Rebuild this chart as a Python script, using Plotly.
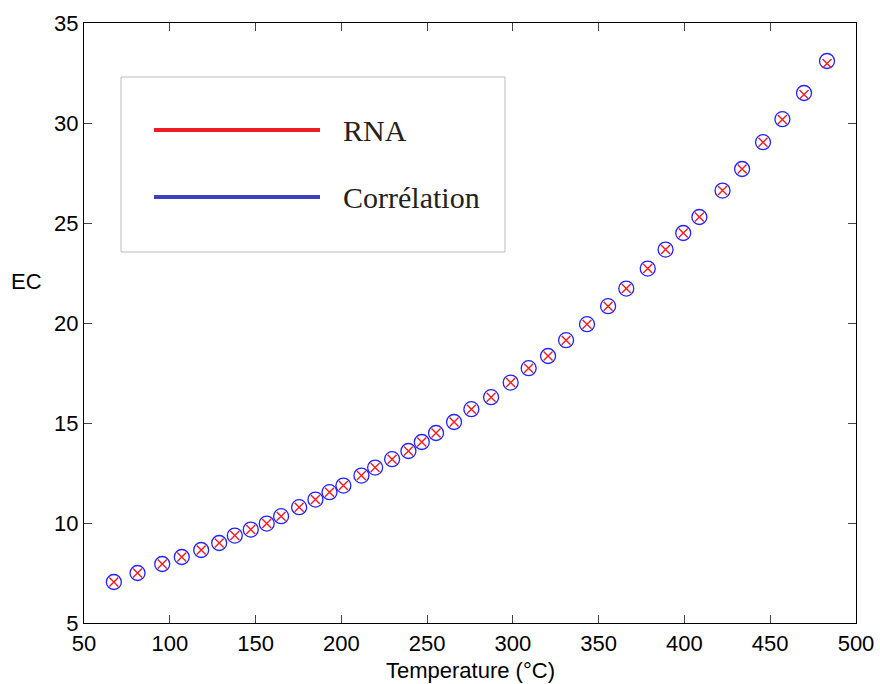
import plotly.graph_objects as go

# temperature (°C) and EC values
temperature = [
    67.4, 81.2, 95.6, 107.0, 118.3, 128.8, 137.9, 147.2, 156.5, 164.9,
    175.4, 184.9, 193.1, 201.2, 211.7, 219.7, 229.6, 239.1, 246.9, 255.2,
    265.7, 275.8, 287.3, 298.7, 309.2, 320.5, 331.0, 343.2, 355.5, 366.1,
    378.6, 389.0, 399.3, 408.7, 422.2, 433.6, 445.8, 457.1, 469.7, 483.1,
]
ec_correlation = [
    7.05, 7.50, 7.95, 8.30, 8.65, 9.00, 9.37, 9.67, 9.97, 10.34,
    10.79, 11.17, 11.54, 11.87, 12.37, 12.77, 13.19, 13.60, 14.05, 14.50,
    15.05, 15.69, 16.29, 17.02, 17.74, 18.35, 19.14, 19.94, 20.84, 21.72,
    22.72, 23.67, 24.50, 25.30, 26.62, 27.70, 29.04, 30.19, 31.50, 33.10,
]
ec_rna = [
    7.05, 7.50, 7.95, 8.30, 8.65, 9.00, 9.37, 9.67, 9.97, 10.34,
    10.79, 11.17, 11.54, 11.87, 12.37, 12.77, 13.19, 13.60, 14.05, 14.50,
    15.05, 15.69, 16.29, 17.02, 17.74, 18.35, 19.14, 19.94, 20.84, 21.72,
    22.72, 23.67, 24.50, 25.30, 26.62, 27.70, 29.04, 30.17, 31.43, 32.97,
]
legend_names = ["RNA", "Corrélation"]

AXIS_FONT = dict(family="Liberation Sans, Arial, sans-serif", size=22, color="black")
RED = "#f01c24"
BLUE = "#2222ff"

fig = go.Figure()
fig.add_trace(
    go.Scatter(
        x=temperature,
        y=ec_correlation,
        mode="markers",
        name=legend_names[1],
        marker=dict(symbol="circle-open", size=15, color=BLUE, line=dict(width=1.3)),
    )
)
fig.add_trace(
    go.Scatter(
        x=temperature,
        y=ec_rna,
        mode="markers",
        name=legend_names[0],
        marker=dict(symbol="x-thin-open", size=9, color=RED, line=dict(width=1.4, color=RED)),
    )
)

# hand-drawn style legend box (as in the original figure)
fig.add_shape(
    type="rect", xref="paper", yref="paper",
    x0=(121 - 84) / 772, x1=(505 - 84) / 772,
    y0=(623 - 252) / 600, y1=(623 - 77) / 600,
    line=dict(color="#bbbbbb", width=1), fillcolor="white", layer="above",
)
for name, color, ypix in [(legend_names[0], "#ee1c25", 130), (legend_names[1], "#3a40c4", 197)]:
    yp = (623 - ypix) / 600
    fig.add_shape(
        type="line", xref="paper", yref="paper",
        x0=(154 - 84) / 772, x1=(320 - 84) / 772, y0=yp, y1=yp,
        line=dict(color=color, width=4), layer="above",
    )
    fig.add_annotation(
        xref="paper", yref="paper", x=(341 - 84) / 772, y=yp,
        text=name, showarrow=False, xanchor="left", yanchor="middle",
        font=dict(family="Liberation Serif, Times New Roman, serif", size=30, color="#222222"),
    )

fig.add_annotation(
    xref="paper", yref="paper", x=0.5, y=0, yanchor="top", yshift=-33,
    text="Temperature (°C)", showarrow=False, font=AXIS_FONT,
)
fig.add_annotation(
    xref="paper", yref="paper", x=-0.052, y=(623 - 281) / 600, xanchor="right",
    text="EC", showarrow=False, font=AXIS_FONT,
)

axis_style = dict(
    showline=True, linecolor="black", linewidth=1.3, mirror="ticks",
    ticks="inside", ticklen=8, tickcolor="#444444", tickwidth=1,
    showgrid=False, zeroline=False, tickfont=AXIS_FONT, automargin=False,
)
fig.update_xaxes(range=[50, 500], tick0=50, dtick=50, **axis_style)
fig.update_yaxes(range=[5, 35], tick0=5, dtick=5, **axis_style)

fig.update_layout(
    width=880, height=684,
    margin=dict(l=84, r=24, t=23, b=61),
    plot_bgcolor="white", paper_bgcolor="white",
    showlegend=False,
)
fig.write_html(
    "out.html",
    config={"displayModeBar": False},
    post_script="document.body.style.margin='0';",
)
